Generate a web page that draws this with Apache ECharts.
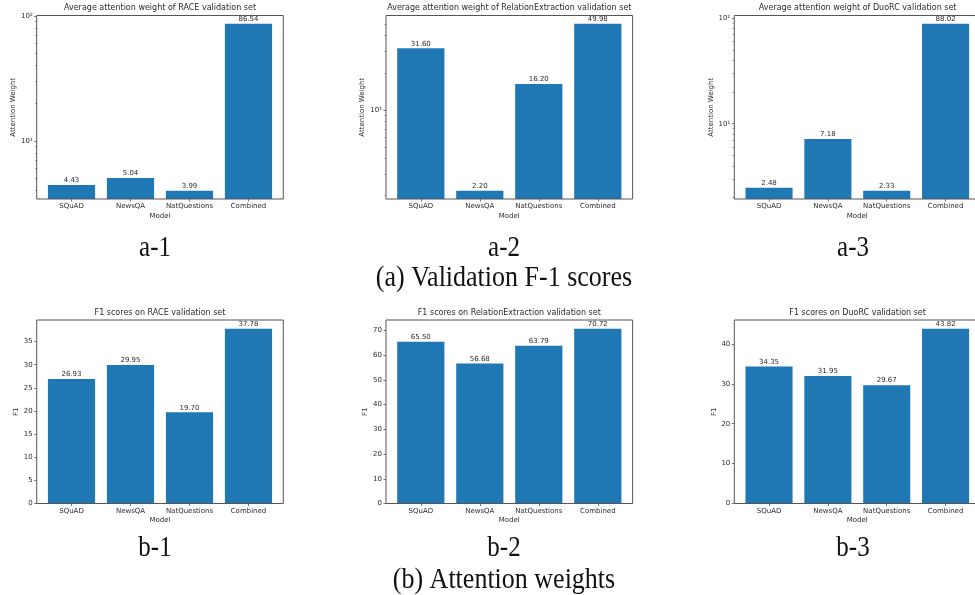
<!DOCTYPE html>
<html><head><meta charset="utf-8">
<script src="https://cdn.jsdelivr.net/npm/echarts@6/dist/echarts.min.js"></script>
<style>html,body{margin:0;padding:0;background:#fff}#c{width:975px;height:595px}</style>
</head><body><div id="c"></div>
<script>
// ---------- data ----------
const categories = ['SQuAD', 'NewsQA', 'NatQuestions', 'Combined'];
const attnRACE = [4.43, 5.04, 3.99, 86.54];
const attnRelation = [31.60, 2.20, 16.20, 49.98];
const attnDuoRC = [2.48, 7.18, 2.33, 88.02];
const f1RACE = [26.93, 29.95, 19.70, 37.78];
const f1Relation = [65.50, 56.68, 63.79, 70.72];
const f1DuoRC = [34.35, 31.95, 29.67, 43.82];
const logMajorTicks = [1, 10, 100, 1000];
const logMinorTicks = [2, 3, 4, 5, 6, 7, 8, 9, 20, 30, 40, 50, 60, 70, 80, 90];
const f1TicksRACE = [0, 5, 10, 15, 20, 25, 30, 35];
const f1TicksRelation = [0, 10, 20, 30, 40, 50, 60, 70];
const f1TicksDuoRC = [0, 10, 20, 30, 40];
const panelTitles = [
  'Average attention weight of RACE validation set',
  'Average attention weight of RelationExtraction validation set',
  'Average attention weight of DuoRC validation set',
  'F1 scores on RACE validation set',
  'F1 scores on RelationExtraction validation set',
  'F1 scores on DuoRC validation set'
];
const subCaptions = ['a-1', 'a-2', 'a-3', 'b-1', 'b-2', 'b-3'];
const groupCaptions = ['(a) Validation F-1 scores', '(b) Attention weights'];

// ---------- layout / style ----------
const FONT = 'DejaVu Sans';
const TXT = '#2b2b2b';
const LINE = '#555';
const BAR = '#1f77b4';
const colLeft = [36.7, 386, 734.3];
const frameW = 246.6;
const rowTop = [15.5, 320];
const frameH = 183.5;
const titleY = [8.3, 313.3];
const subCapX = [155, 504, 853];
const subCapY = [248, 548];
const groupCapX = 504;
const groupCapY = [278, 580];
const capScaleY = 1.15;

const panels = [
  {data: attnRACE, log: true, yName: 'Attention Weight', nameGap: 20},
  {data: attnRelation, log: true, yName: 'Attention Weight', nameGap: 20},
  {data: attnDuoRC, log: true, yName: 'Attention Weight', nameGap: 19},
  {data: f1RACE, log: false, ticks: f1TicksRACE, yName: 'F1', nameGap: 16.5},
  {data: f1Relation, log: false, ticks: f1TicksRelation, yName: 'F1', nameGap: 17},
  {data: f1DuoRC, log: false, ticks: f1TicksDuoRC, yName: 'F1', nameGap: 17}
];

const sup = {'1': '\u00b9', '2': '\u00b2', '3': '\u00b3', '0': '\u2070'};
function logLabel(v) {
  const e = Math.round(Math.log10(v));
  return '10' + String(e).split('').map(c => sup[c]).join('');
}

const grids = [], xAxes = [], yAxes = [], series = [], graphics = [];
panels.forEach((p, i) => {
  const col = i % 3, row = Math.floor(i / 3);
  const L = colLeft[col], T = rowTop[row];
  const unit = frameW / 4.18;
  const inset = 0.09 * unit;
  grids.push({left: L + inset, top: T, width: 4 * unit, height: frameH, show: false, containLabel: false});
  xAxes.push({
    type: 'category', gridIndex: i, data: categories,
    axisLine: {show: false},
    axisTick: {show: true, alignWithLabel: true, interval: 0, length: 2.5, lineStyle: {color: LINE, width: 0.8}},
    axisLabel: {interval: 0, margin: 4, fontSize: 7, fontFamily: FONT, color: TXT},
    name: 'Model', nameLocation: 'middle', nameGap: 13.5,
    nameTextStyle: {fontSize: 7, fontFamily: FONT, color: TXT}
  });
  let min, max, majors, minors = null;
  if (p.log) {
    const lo = Math.log10(Math.min(...p.data)), hi = Math.log10(Math.max(...p.data));
    const m = 0.05 * (hi - lo);
    min = Math.pow(10, lo - m); max = Math.pow(10, hi + m);
    majors = logMajorTicks.filter(v => v >= min && v <= max);
    minors = logMinorTicks.filter(v => v >= min && v <= max);
  } else {
    min = 0; max = Math.max(...p.data) * 1.05;
    majors = p.ticks;
  }
  const yIdx = yAxes.length;
  yAxes.push({
    type: p.log ? 'log' : 'value', logBase: 10, gridIndex: i, position: 'left', min: min, max: max, offset: inset,
    axisLine: {show: false}, splitLine: {show: false},
    axisTick: {show: true, length: 2.5, customValues: majors, lineStyle: {color: LINE, width: 0.8}},
    axisLabel: {customValues: majors, margin: 4, fontSize: 7, fontFamily: FONT, color: TXT,
      formatter: p.log ? (v => logLabel(v)) : (v => String(v))},
    name: p.yName, nameLocation: 'middle', nameGap: p.nameGap,
    nameTextStyle: {fontSize: 7, fontFamily: FONT, color: TXT}
  });
  if (minors) {
    yAxes.push({
      type: 'log', logBase: 10, gridIndex: i, position: 'left', min: min, max: max, offset: inset,
      axisLine: {show: false}, splitLine: {show: false},
      axisTick: {show: true, length: 1.6, customValues: minors, lineStyle: {color: LINE, width: 0.6}},
      axisLabel: {show: false}
    });
  }
  series.push({
    type: 'bar', xAxisIndex: i, yAxisIndex: yIdx, data: p.data, clip: true,
    barCategoryGap: '20%', itemStyle: {color: BAR},
    label: {show: true, position: 'top', distance: 1, fontSize: 7, fontFamily: FONT, color: TXT,
      formatter: d => d.value.toFixed(2)},
    silent: true, animation: false
  });
  graphics.push({
    type: 'rect', silent: true, z: 10,
    shape: {x: L, y: T, width: frameW, height: frameH},
    style: {fill: 'none', stroke: LINE, lineWidth: 1}
  });
  graphics.push({
    type: 'text', silent: true, x: L + frameW / 2, y: titleY[row],
    style: {text: panelTitles[i], fontSize: 8, fontFamily: FONT, fill: TXT,
      align: 'center', verticalAlign: 'middle', textAlign: 'center', textVerticalAlign: 'middle'}
  });
  graphics.push({
    type: 'text', silent: true, x: subCapX[col], y: subCapY[row], scaleY: capScaleY,
    style: {text: subCaptions[i], fontSize: 25, fontFamily: 'Liberation Serif', fill: '#111',
      align: 'center', verticalAlign: 'middle', textAlign: 'center', textVerticalAlign: 'middle'}
  });
});
groupCaptions.forEach((t, r) => {
  graphics.push({
    type: 'text', silent: true, x: groupCapX, y: groupCapY[r], scaleY: capScaleY,
    style: {text: t, fontSize: 26, fontFamily: 'Liberation Serif', fill: '#111',
      align: 'center', verticalAlign: 'middle', textAlign: 'center', textVerticalAlign: 'middle'}
  });
});

const chart = echarts.init(document.getElementById('c'), null, {renderer: 'canvas'});
chart.setOption({
  animation: false,
  backgroundColor: '#fff',
  grid: grids, xAxis: xAxes, yAxis: yAxes, series: series,
  graphic: {elements: graphics}
});
</script></body></html>
